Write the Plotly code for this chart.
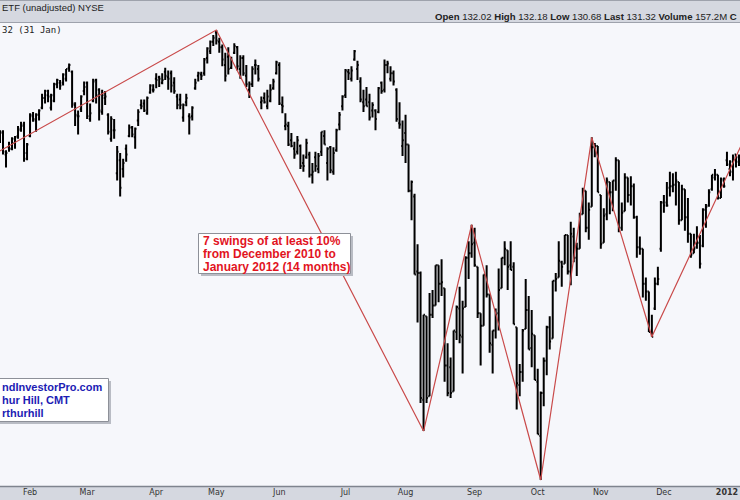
import pandas as pd
import plotly.graph_objects as go

# ---------------- data (SPY daily bars, 18 Jan 2011 - 9 Jan 2012) ----------------
opens = (
    [129.2, 129.8, 128.2, 128.7, 128.6, 129.0, 129.5, 130.0, 130.3, 128.3]
    + [129.5, 130.9, 130.6, 131.0, 131.5, 132.2, 132.4, 131.5, 132.0, 133.2, 133.3, 133.3, 133.6, 134.4, 134.1, 131.7, 130.9, 131.4, 132.7]
    + [133.3, 130.7, 132.0, 133.5, 132.8, 131.2, 132.2, 131.0, 129.3, 129.9, 126.9, 127.8, 127.2, 128.6, 129.5, 130.1, 129.4, 130.6, 131.7, 131.8, 131.1, 132.6, 132.8]
    + [133.6, 133.7, 133.3, 134.1, 133.7, 134.0, 133.3, 132.3, 132.1, 130.8, 131.9, 130.9, 130.9, 132.9, 133.8, 133.9, 134.0, 135.1, 135.6, 136.3]
    + [137.0, 136.3, 135.9, 134.6, 135.2, 134.4, 135.5, 135.9, 134.3, 135.1, 133.8, 132.8, 133.2, 134.6, 134.3, 131.9, 132.2, 131.6, 132.0, 132.9, 134.0]
    + [134.6, 131.7, 130.2, 130.2, 129.2, 128.6, 128.4, 128.8, 127.6, 128.0, 128.2, 126.8, 128.0, 127.2, 128.4, 129.5, 127.6, 128.7, 127.0, 128.5, 130.3, 131.6]
    + [132.4, 134.1, 133.6, 135.0, 134.3, 133.4, 131.9, 132.1, 131.9, 131.3, 131.3, 131.2, 133.3, 132.8, 134.6, 133.6, 134.0, 132.8, 130.4, 128.8]
    + [129.7, 128.9, 125.7, 125.3, 120.3, 120.2, 112.2, 117.4, 112.4, 117.5, 118.1, 120.7, 119.5, 119.2, 114.3, 114.2, 112.7, 116.4, 117.9, 116.1, 118.0, 121.2, 121.5]
    + [122.2, 120.6, 117.6, 116.8, 120.0, 118.8, 115.6, 116.5, 117.6, 119.2, 121.2, 121.7, 120.7, 120.6, 116.7, 113.1, 113.9, 116.6, 117.8, 115.4, 116.2]
    + [113.3, 110.0, 112.6, 114.6, 116.7, 116.0, 119.7, 119.9, 120.9, 120.8, 122.7, 120.3, 122.6, 121.2, 121.8, 124.1, 125.7, 123.2, 124.6, 128.7, 128.8]
    + [125.4, 122.2, 124.1, 126.3, 125.6, 126.4, 127.8, 123.2, 124.3, 126.6, 125.4, 126.0, 123.9, 121.9, 121.8, 119.5, 119.0, 116.4, 117.9, 119.5, 121.8]
    + [124.9, 124.9, 125.9, 126.0, 126.1, 126.3, 123.7, 125.8, 123.9, 122.8, 121.5, 121.9, 122.2, 122.0, 124.4, 124.7, 125.8, 126.6, 126.8, 125.2, 126.4]
    + [127.8, 127.2, 127.0, 128.2, 128.0]
)
highs = (
    [129.9, 129.9, 128.5, 129.1, 129.4, 129.5, 130.2, 130.5, 130.5, 129.0]
    + [131.1, 131.2, 131.1, 131.4, 132.5, 132.8, 132.8, 132.5, 133.3, 133.6, 133.5, 134.0, 134.3, 134.7, 134.2, 131.9, 131.3, 132.4, 133.4]
    + [133.4, 131.8, 133.6, 133.6, 132.9, 132.8, 132.7, 131.1, 130.9, 130.7, 128.8, 128.3, 127.9, 128.9, 130.3, 130.2, 130.1, 131.4, 132.1, 132.1, 132.3, 133.2, 133.2]
    + [134.0, 133.8, 134.0, 134.4, 134.2, 134.2, 133.7, 132.5, 132.5, 131.8, 132.5, 131.1, 131.6, 133.6, 134.1, 134.1, 135.1, 135.9, 136.4, 136.8]
    + [137.18, 136.6, 136.1, 135.5, 135.9, 135.2, 136.2, 136.0, 135.3, 135.3, 134.6, 133.4, 134.5, 135.0, 134.6, 132.3, 132.6, 132.8, 133.2, 133.6, 134.9]
    + [134.8, 132.3, 131.1, 130.5, 129.7, 129.1, 129.5, 128.9, 128.2, 129.3, 128.4, 127.6, 128.4, 128.3, 129.8, 129.9, 128.7, 128.8, 128.7, 130.0, 131.2, 132.4]
    + [134.3, 134.3, 134.5, 135.7, 134.9, 133.7, 132.8, 133.0, 132.5, 131.9, 131.4, 133.0, 133.4, 135.0, 134.9, 134.5, 134.2, 132.9, 131.9, 130.6]
    + [131.0, 128.9, 126.4, 125.5, 122.1, 120.3, 117.5, 117.4, 118.9, 119.1, 120.7, 120.7, 121.1, 119.2, 115.7, 114.8, 116.5, 118.1, 119.3, 118.4, 121.3, 122.3, 123.4]
    + [123.2, 120.6, 117.6, 120.1, 120.7, 118.8, 116.5, 117.9, 120.5, 121.2, 122.3, 121.7, 122.3, 120.9, 116.7, 114.4, 116.6, 119.8, 118.7, 117.8, 116.2]
    + [114.1, 112.7, 114.8, 116.8, 117.4, 119.7, 120.2, 122.3, 121.0, 122.7, 122.7, 123.6, 123.2, 122.2, 124.2, 125.9, 125.7, 124.9, 129.4, 129.0, 128.8]
    + [125.4, 124.5, 126.6, 126.3, 126.4, 128.0, 127.8, 124.9, 126.9, 126.6, 126.7, 126.2, 124.0, 122.6, 121.8, 119.9, 119.0, 117.5, 119.9, 120.6, 125.0]
    + [125.4, 126.3, 127.0, 126.9, 127.0, 126.3, 126.1, 125.8, 125.2, 122.8, 122.8, 123.3, 122.7, 124.5, 124.8, 125.8, 126.8, 127.2, 126.8, 126.6, 126.6]
    + [128.4, 127.8, 128.2, 128.2, 128.2]
)
lows = (
    [129.0, 128.2, 127.3, 128.4, 128.5, 128.6, 129.3, 129.8, 127.7, 127.8]
    + [129.4, 130.5, 129.8, 130.6, 131.4, 131.8, 131.9, 131.3, 131.9, 132.9, 132.8, 133.1, 133.4, 134.1, 131.5, 130.2, 129.6, 131.2, 132.4]
    + [130.7, 130.5, 131.9, 131.8, 130.6, 131.0, 131.7, 129.6, 129.1, 129.3, 126.4, 125.3, 126.6, 127.7, 129.4, 129.4, 128.6, 130.2, 131.4, 131.2, 131.0, 132.5, 132.6]
    + [132.9, 133.0, 133.2, 133.5, 132.8, 132.6, 132.5, 131.4, 131.4, 130.5, 131.6, 129.6, 130.6, 132.8, 133.4, 133.5, 133.8, 134.7, 135.4, 136.0]
    + [136.1, 135.5, 134.5, 133.4, 133.9, 134.3, 135.4, 134.2, 133.6, 133.8, 133.0, 132.2, 133.0, 133.9, 133.4, 131.4, 131.8, 131.4, 131.9, 132.8, 133.9]
    + [131.7, 131.1, 129.9, 128.8, 128.7, 127.9, 128.2, 127.2, 127.0, 127.9, 126.6, 126.2, 127.0, 126.9, 128.1, 128.9, 126.4, 126.9, 126.8, 128.4, 129.9, 131.3]
    + [132.2, 133.5, 133.4, 134.9, 133.5, 131.9, 131.2, 131.6, 130.6, 130.8, 129.9, 131.1, 132.5, 132.6, 134.0, 133.4, 133.1, 130.5, 130.0, 128.1]
    + [127.6, 125.6, 123.7, 120.1, 117.0, 112.0, 110.3, 112.0, 112.4, 117.3, 118.1, 118.3, 118.7, 113.3, 112.4, 112.3, 112.7, 115.9, 115.7, 113.8, 118.0, 119.8, 121.2]
    + [120.6, 117.3, 114.3, 116.8, 118.6, 115.1, 113.8, 116.0, 116.5, 119.2, 120.7, 119.1, 120.4, 116.9, 111.6, 112.4, 113.3, 116.6, 115.3, 114.2, 113.4]
    + [110.1, 107.4, 111.8, 113.7, 115.3, 116.0, 119.0, 119.9, 119.3, 120.8, 120.1, 119.4, 120.9, 120.0, 121.8, 124.1, 122.9, 122.4, 124.6, 128.0, 125.6]
    + [121.8, 122.2, 123.7, 124.1, 124.3, 125.7, 122.9, 123.0, 124.3, 124.9, 124.7, 123.8, 121.2, 121.4, 118.6, 118.4, 116.4, 116.1, 117.8, 119.4, 121.6]
    + [124.2, 124.6, 125.3, 125.6, 124.7, 123.4, 123.7, 123.0, 122.2, 121.2, 121.5, 121.8, 120.5, 121.9, 123.2, 124.6, 125.7, 126.4, 125.1, 125.2, 125.9]
    + [127.4, 126.7, 126.4, 127.3, 127.4]
)
closes = (
    [129.7, 128.4, 128.3, 128.6, 129.3, 129.4, 129.9, 130.2, 127.9, 128.9]
    + [131.0, 130.7, 131.0, 131.3, 132.2, 132.7, 132.3, 132.4, 133.2, 133.5, 133.1, 133.9, 134.3, 134.6, 131.8, 131.0, 130.9, 132.3, 133.0]
    + [130.9, 131.1, 133.4, 132.4, 131.3, 132.4, 132.3, 129.8, 130.7, 129.9, 128.4, 125.9, 127.6, 128.2, 130.1, 129.6, 130.0, 131.2, 131.6, 131.3, 132.2, 133.1, 132.8]
    + [133.5, 133.6, 133.5, 133.8, 133.6, 133.1, 132.7, 131.7, 131.7, 131.7, 132.2, 130.8, 131.5, 133.3, 134.0, 133.8, 135.0, 135.8, 136.3, 136.6]
    + [136.4, 135.9, 135.0, 133.8, 134.3, 134.9, 136.0, 134.5, 135.1, 134.0, 133.2, 133.2, 134.3, 134.6, 133.6, 132.0, 131.9, 132.3, 132.8, 133.4, 134.8]
    + [131.8, 131.6, 130.3, 128.9, 128.8, 128.2, 129.2, 127.4, 127.4, 129.0, 126.8, 127.0, 127.4, 128.1, 129.8, 128.9, 128.6, 127.1, 128.3, 129.9, 131.0, 132.3]
    + [134.2, 134.0, 134.2, 135.6, 134.6, 132.1, 131.6, 131.6, 130.8, 131.7, 130.7, 132.9, 132.7, 134.6, 134.7, 134.0, 133.4, 130.7, 130.3, 129.2]
    + [128.9, 125.7, 126.3, 120.1, 120.2, 112.3, 117.5, 112.3, 117.5, 118.1, 120.7, 119.5, 119.6, 114.3, 112.6, 112.6, 116.5, 118.0, 116.2, 117.9, 121.2, 121.5, 122.1]
    + [120.7, 117.6, 116.8, 120.1, 118.8, 115.7, 116.5, 117.5, 119.1, 121.2, 121.8, 120.6, 120.4, 116.9, 113.2, 113.9, 116.5, 117.8, 115.3, 116.3, 113.4]
    + [110.1, 112.6, 114.6, 116.7, 115.8, 119.7, 119.8, 121.0, 120.6, 122.7, 120.3, 122.8, 121.2, 121.8, 124.1, 125.7, 123.2, 124.4, 128.7, 128.8, 125.6]
    + [122.1, 124.0, 126.4, 125.6, 126.4, 127.8, 123.2, 124.2, 126.6, 125.4, 126.0, 123.9, 121.9, 121.8, 119.5, 119.0, 116.4, 116.1, 119.5, 119.8, 124.9]
    + [124.7, 124.7, 126.0, 126.1, 126.4, 123.7, 125.8, 123.9, 122.8, 121.4, 121.8, 122.2, 120.8, 124.4, 124.6, 125.6, 126.8, 126.8, 125.2, 126.5, 126.0]
    + [127.5, 127.7, 128.0, 127.7, 128.0]
)

# zigzag swing points (10% swings)
swing_dates = ["2010-12-01", "2011-05-02", "2011-08-09", "2011-08-31",
               "2011-10-04", "2011-10-27", "2011-11-25", "2012-01-19"]
swing_values = [124.75, 137.18, 110.3, 123.4, 107.4, 129.4, 116.1, 131.7]

month_labels = ["Feb", "Mar", "Apr", "May", "Jun", "Jul", "Aug", "Sep",
                "Oct", "Nov", "Dec", "<b>2012</b>"]
month_starts = ["2011-02", "2011-03", "2011-04", "2011-05", "2011-06", "2011-07",
                "2011-08", "2011-09", "2011-10", "2011-11", "2011-12", "2012-01"]

nyse_holidays = ["2010-12-24", "2011-01-17", "2011-02-21", "2011-04-22", "2011-05-30",
                 "2011-07-04", "2011-09-05", "2011-11-24", "2011-12-26",
                 "2012-01-02", "2012-01-16"]

# ---------------- trading-day calendar -> x positions ----------------
cal = pd.bdate_range("2010-12-01", "2012-01-31")
cal = cal[~cal.isin(pd.to_datetime(nyse_holidays))]
pos = {d: i for i, d in enumerate(cal)}
origin = pos[pd.Timestamp("2011-01-18")]


def xpos(d):
    return pos[pd.Timestamp(d)] - origin


bar_days = cal[(cal >= "2011-01-18") & (cal <= "2012-01-09")]
assert len(bar_days) == len(opens) == len(highs) == len(lows) == len(closes), (
    len(bar_days), len(opens), len(highs), len(lows), len(closes))
x_bars = [xpos(d) for d in bar_days]

tick_vals = []
for m in month_starts:
    first = [d for d in cal if d.strftime("%Y-%m") == m][0]
    tick_vals.append(xpos(first))

swing_x = [xpos(d) for d in swing_dates]

# ---------------- figure ----------------
W, H = 740, 500
T, B = 23, 14
PH = H - T - B


def px(x):
    return x / W


def py(y):
    return (H - B - y) / PH


fig = go.Figure()
fig.add_trace(go.Ohlc(
    x=x_bars, open=opens, high=highs, low=lows, close=closes,
    increasing=dict(line=dict(color="#000000", width=2)),
    decreasing=dict(line=dict(color="#000000", width=2)),
    tickwidth=0.45, hoverinfo="skip", showlegend=False,
))
fig.add_trace(go.Scatter(
    x=swing_x, y=swing_values, mode="lines",
    line=dict(color="#c94a4a", width=1.2),
    hoverinfo="skip", showlegend=False,
))

shapes = [
    dict(type="line", xref="paper", yref="paper", x0=0, x1=1, y0=py(22.5), y1=py(22.5),
         line=dict(color="#9ea2ac", width=1)),
    dict(type="line", xref="paper", yref="paper", x0=0, x1=1, y0=py(486.5), y1=py(486.5),
         line=dict(color="#7f848e", width=1.5)),
    dict(type="line", xref="paper", yref="paper", x0=0, x1=1, y0=py(0.5), y1=py(0.5),
         line=dict(color="#9ea2ac", width=1)),
    dict(type="rect", xref="paper", yref="paper", x0=px(201), x1=px(353), y0=py(236), y1=py(276),
         fillcolor="#b9bcc4", line=dict(width=0), layer="above"),
    dict(type="rect", xref="paper", yref="paper", x0=px(198.5), x1=px(350.5), y0=py(233.5), y1=py(273.5),
         fillcolor="#ffffff", line=dict(color="#8d9098", width=1), layer="above"),
    dict(type="rect", xref="paper", yref="paper", x0=px(-5), x1=px(111), y0=py(381), y1=py(424),
         fillcolor="#b9bcc4", line=dict(width=0), layer="above"),
    dict(type="rect", xref="paper", yref="paper", x0=px(-5), x1=px(108.5), y0=py(378.5), y1=py(421.5),
         fillcolor="#ffffff", line=dict(color="#8d9098", width=1), layer="above"),
]

annotations = []


def note(text, x, y, size, color, family="Liberation Sans", xanchor="left"):
    annotations.append(dict(
        text=text, xref="paper", yref="paper", x=px(x), y=py(y),
        xanchor=xanchor, yanchor="middle", showarrow=False,
        font=dict(family=family, size=size, color=color),
    ))


note("ETF (unadjusted) NYSE", 0, 7.5, 9.5, "#222222")
note("<b>Open</b> 132.02 <b>High</b> 132.18 <b>Low</b> 130.68 <b>Last</b> 131.32 <b>Volume</b> 157.2M <b>C</b>",
     739, 17, 9.6, "#222222", xanchor="right")
note("32 (31 Jan)", 0, 29.5, 9, "#222222", family="DejaVu Sans Mono")

red_lines = ["7 swings of at least 10%", "from December 2010 to", "January 2012 (14 months)"]
for k, t in enumerate(red_lines):
    note("<b>" + t + "</b>", 201, 241.5 + 12.8 * k, 12, "#e2141e")

blue_lines = ["ndInvestorPro.com", "hur Hill, CMT", "rthurhill"]
for k, t in enumerate(blue_lines):
    note("<b>" + t + "</b>", 0, 386.5 + 13 * k, 11, "#1c1cb4")

fig.update_layout(
    width=W, height=H,
    margin=dict(l=0, r=0, t=T, b=B, pad=0),
    paper_bgcolor="#d5d8e0",
    plot_bgcolor="#f6f7fb",
    shapes=shapes,
    annotations=annotations,
    showlegend=False,
    xaxis=dict(
        range=[0, 246.34], showgrid=False, zeroline=False, rangeslider=dict(visible=False),
        tickmode="array", tickvals=tick_vals, ticktext=month_labels,
        ticks="", tickfont=dict(family="DejaVu Sans", size=8, color="#333333"),
        showline=False, fixedrange=True,
    ),
    yaxis=dict(
        type="log", range=[2.029593, 2.138944], showgrid=False, zeroline=False,
        showticklabels=False, ticks="", showline=False, fixedrange=True,
    ),
)

fig.write_html(
    "out.html",
    config={"displayModeBar": False},
    post_script="document.body.style.margin='0';document.body.style.overflow='hidden';",
)
